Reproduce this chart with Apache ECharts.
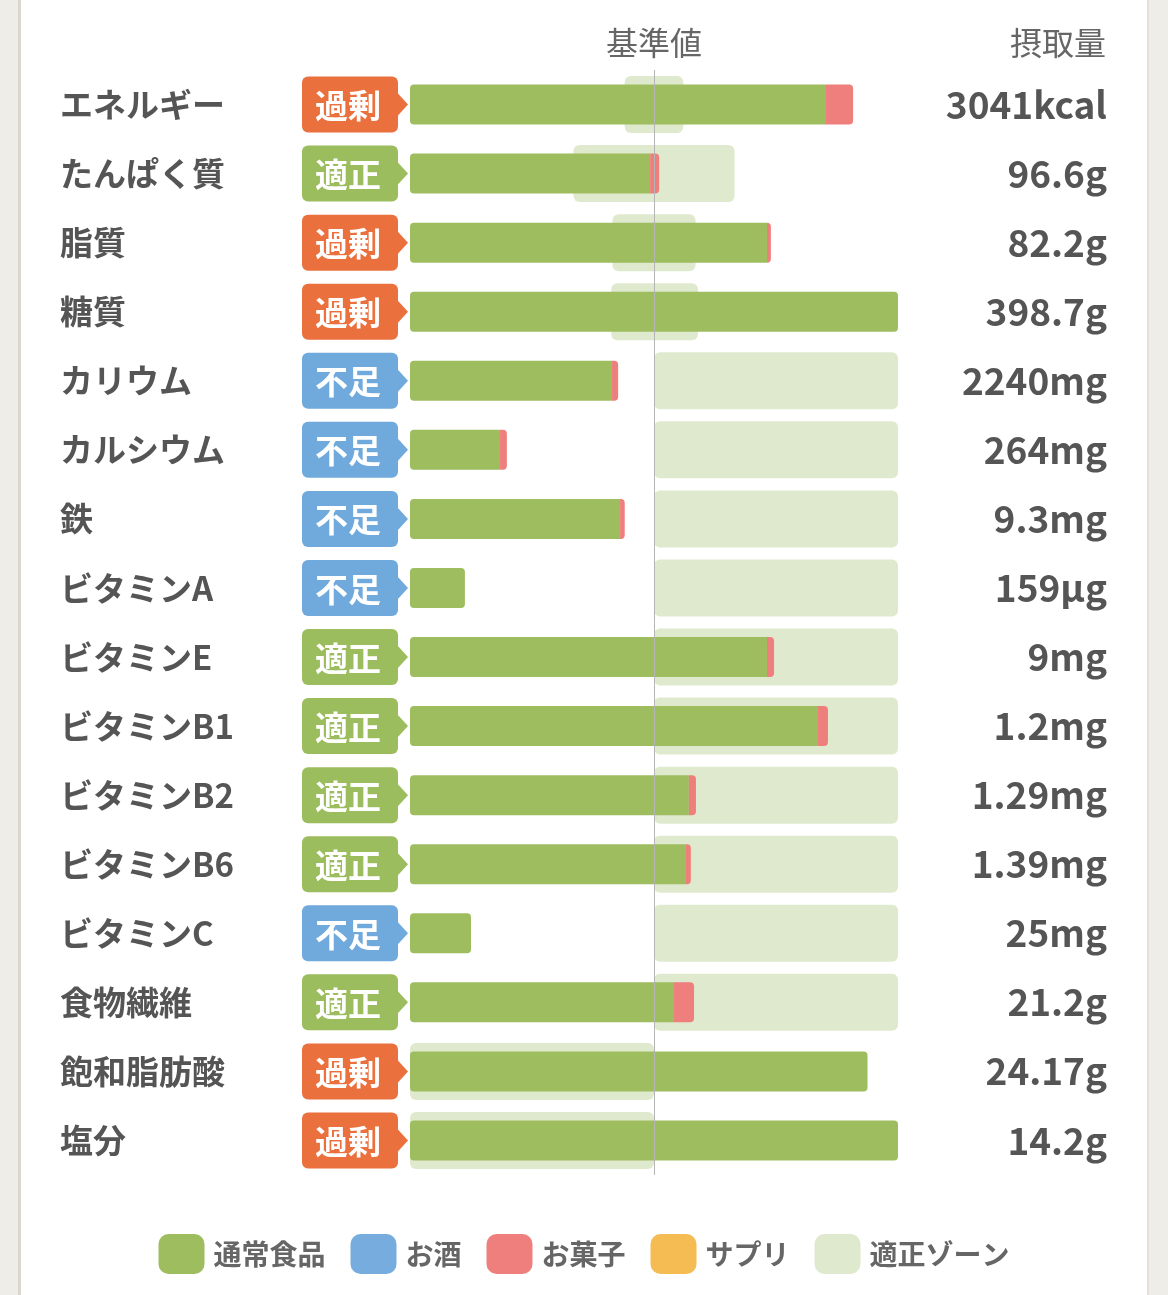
<!DOCTYPE html>
<html lang="ja">

<head>
    <meta charset="UTF-8">
    <title>栄養素</title>
    <script src="https://cdnjs.cloudflare.com/ajax/libs/echarts/6.0.0/echarts.min.js"></script>
    <style>
        body { margin: 0; }
        #main {
            width: 1168px;
            height: 1295px;
            background: linear-gradient(to right, #eeede8 0 18px, #d9d7d0 18px 21px, #fff 21px 1147px, #e2e0d9 1147px 1149px, #eeede8 1149px);
        }
    </style>
</head>

<body>
    <div id="main"></div>
    <script type="text/javascript">
        const FONT = '"Noto Sans CJK JP", "Noto Sans", sans-serif';

        // 栄養素（上から順）
        const nutrients = ['エネルギー', 'たんぱく質', '脂質', '糖質', 'カリウム', 'カルシウム', '鉄', 'ビタミンA',
            'ビタミンE', 'ビタミンB1', 'ビタミンB2', 'ビタミンB6', 'ビタミンC', '食物繊維', '飽和脂肪酸', '塩分'];
        const status = ['過剰', '適正', '過剰', '過剰', '不足', '不足', '不足', '不足',
            '適正', '適正', '適正', '適正', '不足', '適正', '過剰', '過剰'];
        const intakeLabels = ['3041kcal', '96.6g', '82.2g', '398.7g', '2240mg', '264mg', '9.3mg', '159µg',
            '9mg', '1.2mg', '1.29mg', '1.39mg', '25mg', '21.2g', '24.17g', '14.2g'];
        // 基準値に対する割合(%)、200で頭打ち
        const foodPct = [170.5, 98.4, 146.3, 200, 82.8, 36.9, 86.1, 22.5, 146.3, 167.2, 114.3, 113.1, 25.0, 108.2, 187.5, 200];
        const alcoholPct = [0, 0, 0, 0, 0, 0, 0, 0, 0, 0, 0, 0, 0, 0, 0, 0];
        const snackPct = [11.1, 3.7, 1.6, 0, 2.5, 2.8, 1.9, 0, 2.9, 4.1, 2.9, 2.0, 0, 8.2, 0, 0];
        const supplementPct = [0, 0, 0, 0, 0, 0, 0, 0, 0, 0, 0, 0, 0, 0, 0, 0];
        // 適正ゾーン
        const zoneLow = [88, 67, 83, 82.5, 100, 100, 100, 100, 100, 100, 100, 100, 100, 100, 0, 0];
        const zoneHigh = [112, 133, 117, 118, 200, 200, 200, 200, 200, 200, 200, 200, 200, 200, 100, 100];

        const statusColor = { '過剰': '#ea713e', '適正': '#9cbd5e', '不足': '#70a9dc' };
        const GREEN = '#9dbd5f', RED = '#ef7f7c', BLUE = '#76acde', ORANGE = '#f4bc52', ZONE = '#dfe9cd';

        const myChart = echarts.init(document.getElementById('main'));

        const foodData = foodPct.map((v, i) => ({
            value: v,
            itemStyle: { borderRadius: snackPct[i] > 0 ? [4, 0, 0, 4] : 4 }
        }));

        const option = {
            backgroundColor: 'transparent',
            animation: false,
            title: {
                text: '摂取量',
                right: 57,
                top: 22,
                textStyle: { fontFamily: FONT, fontSize: 32, fontWeight: 'normal', color: '#666' }
            },
            legend: {
                data: ['通常食品', 'お酒', 'お菓子', 'サプリ', '適正ゾーン'],
                left: 'center',
                top: 1229,
                itemWidth: 46,
                itemHeight: 40,
                itemGap: 25,
                icon: 'roundRect',
                selectedMode: false,
                textStyle: { fontFamily: FONT, fontSize: 28, fontWeight: 'bold', color: '#666', padding: [0, 0, 0, 4] }
            },
            grid: { left: 410, right: 270, top: 70, bottom: 120 },
            xAxis: {
                type: 'value',
                min: 0,
                max: 200,
                position: 'top',
                name: '基準値',
                nameLocation: 'middle',
                nameGap: 11,
                nameTextStyle: { fontFamily: FONT, fontSize: 32, color: '#666' },
                axisLine: { show: false },
                axisTick: { show: false },
                axisLabel: { show: false },
                splitLine: { show: false }
            },
            yAxis: [
                {
                    type: 'category',
                    inverse: true,
                    data: nutrients,
                    position: 'left',
                    axisLine: { show: false },
                    axisTick: { show: false },
                    axisLabel: {
                        align: 'left',
                        margin: 350,
                        fontFamily: FONT,
                        fontSize: 33,
                        fontWeight: 'bold',
                        color: '#555'
                    }
                },
                {
                    type: 'category',
                    inverse: true,
                    data: nutrients,
                    position: 'right',
                    axisLine: { show: false },
                    axisTick: { show: false },
                    axisLabel: {
                        align: 'right',
                        margin: 209,
                        fontFamily: FONT,
                        fontSize: 37,
                        fontWeight: 'bold',
                        color: '#555',
                        formatter: (v, i) => intakeLabels[i]
                    }
                }
            ],
            series: [
                {
                    name: 'ゾーン下限',
                    type: 'bar',
                    stack: 'zone',
                    yAxisIndex: 0,
                    barWidth: 57,
                    silent: true,
                    itemStyle: { color: 'rgba(0,0,0,0)' },
                    data: zoneLow
                },
                {
                    name: '適正ゾーン',
                    type: 'bar',
                    stack: 'zone',
                    yAxisIndex: 0,
                    barWidth: 57,
                    silent: true,
                    itemStyle: { color: ZONE, borderRadius: 6 },
                    data: zoneHigh.map((v, i) => v - zoneLow[i])
                },
                {
                    name: '通常食品',
                    type: 'bar',
                    stack: 'intake',
                    yAxisIndex: 1,
                    barWidth: 40,
                    itemStyle: { color: GREEN },
                    data: foodData,
                    markLine: {
                        silent: true,
                        symbol: 'none',
                        label: { show: false },
                        lineStyle: { color: '#b5b5b5', width: 1, type: 'solid' },
                        data: [{ xAxis: 100 }]
                    }
                },
                {
                    name: 'お酒',
                    type: 'bar',
                    stack: 'intake',
                    yAxisIndex: 1,
                    barWidth: 40,
                    itemStyle: { color: BLUE },
                    data: alcoholPct
                },
                {
                    name: 'お菓子',
                    type: 'bar',
                    stack: 'intake',
                    yAxisIndex: 1,
                    barWidth: 40,
                    itemStyle: { color: RED, borderRadius: [0, 4, 4, 0] },
                    data: snackPct
                },
                {
                    name: 'サプリ',
                    type: 'bar',
                    stack: 'intake',
                    yAxisIndex: 1,
                    barWidth: 40,
                    itemStyle: { color: ORANGE },
                    data: supplementPct
                },
                {
                    // 判定バッジ
                    name: '判定',
                    type: 'custom',
                    yAxisIndex: 1,
                    clip: false,
                    silent: true,
                    data: status.map((s, i) => [0, i]),
                    renderItem: (params, api) => {
                        const p = api.coord([0, api.value(1)]);
                        const x0 = p[0], y = p[1];
                        const s = status[params.dataIndex];
                        const c = statusColor[s];
                        return {
                            type: 'group',
                            children: [
                                {
                                    type: 'rect',
                                    shape: { x: x0 - 108, y: y - 28, width: 96, height: 56, r: 6 },
                                    style: { fill: c }
                                },
                                {
                                    type: 'polygon',
                                    shape: { points: [[x0 - 13, y - 12], [x0 - 2, y], [x0 - 13, y + 12]] },
                                    style: { fill: c }
                                },
                                {
                                    type: 'text',
                                    style: {
                                        text: s,
                                        x: x0 - 62,
                                        y: y + 1,
                                        align: 'center',
                                        verticalAlign: 'middle',
                                        fill: '#fff',
                                        fontFamily: FONT,
                                        fontSize: 33,
                                        fontWeight: 'bold'
                                    }
                                }
                            ]
                        };
                    }
                }
            ]
        };
        myChart.setOption(option);
    </script>
</body>

</html>
